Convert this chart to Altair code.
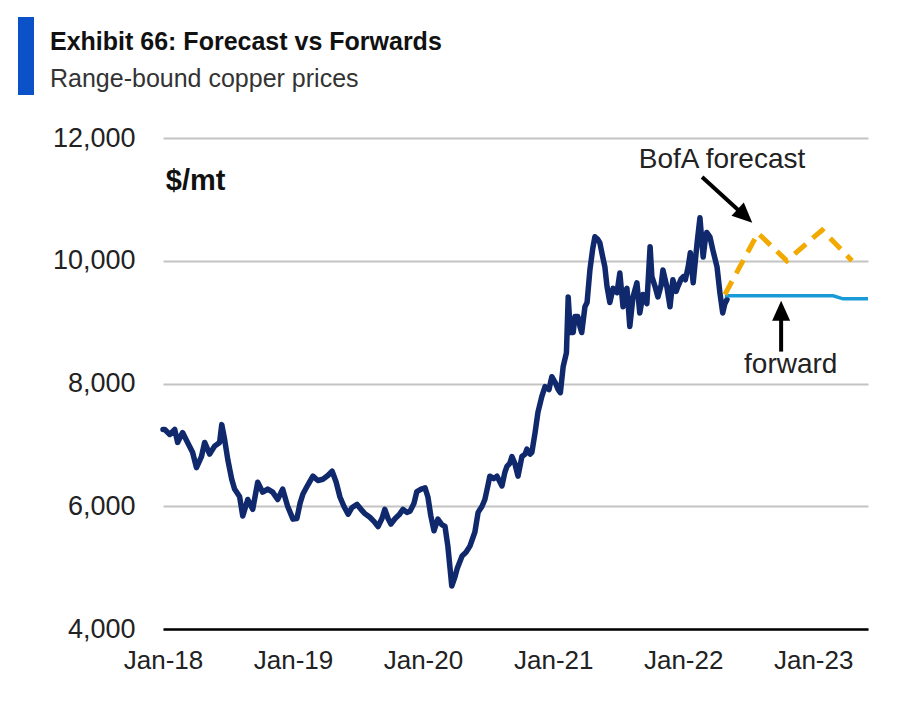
import altair as alt
import pandas as pd

FONT = "Liberation Sans"

# ---------------- data ----------------
spot_dates = [
    "2018-01-01", "2018-01-06", "2018-01-20", "2018-02-03", "2018-02-11", "2018-02-25",
    "2018-03-11", "2018-03-25", "2018-04-05", "2018-04-19", "2018-04-28", "2018-05-12",
    "2018-05-26", "2018-06-09", "2018-06-15", "2018-06-23", "2018-07-02", "2018-07-13",
    "2018-07-21", "2018-08-04", "2018-08-13", "2018-08-27", "2018-09-10", "2018-09-24",
    "2018-10-08", "2018-10-22", "2018-11-05", "2018-11-19", "2018-12-03", "2018-12-17",
    "2019-01-01", "2019-01-12", "2019-01-21", "2019-01-29", "2019-02-12", "2019-02-26",
    "2019-03-12", "2019-03-26", "2019-04-09", "2019-04-21", "2019-05-02", "2019-05-13",
    "2019-05-24", "2019-06-05", "2019-06-16", "2019-06-30", "2019-07-11", "2019-07-22",
    "2019-08-05", "2019-08-17", "2019-08-28", "2019-09-08", "2019-09-16", "2019-09-25",
    "2019-10-03", "2019-10-15", "2019-10-26", "2019-11-06", "2019-11-17", "2019-11-26",
    "2019-12-07", "2019-12-15", "2019-12-27",
    "2020-01-07", "2020-01-15", "2020-01-23", "2020-02-01", "2020-02-12", "2020-02-23",
    "2020-03-03", "2020-03-11", "2020-03-17", "2020-03-22", "2020-03-31", "2020-04-06",
    "2020-04-20", "2020-05-01", "2020-05-12", "2020-05-26", "2020-06-04", "2020-06-15",
    "2020-06-23", "2020-07-02", "2020-07-07", "2020-07-18", "2020-07-27", "2020-08-04",
    "2020-08-10", "2020-08-18", "2020-08-24", "2020-09-01", "2020-09-07", "2020-09-15",
    "2020-09-24", "2020-10-05", "2020-10-14", "2020-10-19", "2020-10-28", "2020-11-02",
    "2020-11-11", "2020-11-19", "2020-11-30", "2020-12-09", "2020-12-20", "2020-12-28",
    "2021-01-07", "2021-01-15", "2021-01-21", "2021-01-29", "2021-02-07", "2021-02-12",
    "2021-02-18", "2021-02-26", "2021-03-03", "2021-03-11", "2021-03-17", "2021-03-22",
    "2021-03-31", "2021-04-06", "2021-04-14", "2021-04-22", "2021-04-28", "2021-05-06",
    "2021-05-12", "2021-05-20", "2021-05-26", "2021-06-01", "2021-06-09", "2021-06-18",
    "2021-06-29", "2021-07-07", "2021-07-16", "2021-07-21", "2021-07-27", "2021-08-04",
    "2021-08-13", "2021-08-24", "2021-09-01", "2021-09-10", "2021-09-21", "2021-09-30",
    "2021-10-05", "2021-10-14", "2021-10-22", "2021-10-31", "2021-11-05", "2021-11-16",
    "2021-11-25", "2021-12-03", "2021-12-12", "2021-12-17", "2021-12-26",
    "2022-01-01", "2022-01-07", "2022-01-15", "2022-01-21", "2022-01-29", "2022-02-09",
    "2022-02-17", "2022-02-26", "2022-03-03", "2022-03-08", "2022-03-17", "2022-03-25",
    "2022-04-06", "2022-04-14", "2022-04-22", "2022-04-28", "2022-05-04",
]
spot_values = [
    7250, 7250, 7170, 7250, 7040, 7200,
    7040, 6880, 6630, 6810, 7040, 6850,
    6980, 7040, 7330, 7090, 6760, 6440,
    6280, 6160, 5840, 6110, 5950, 6390,
    6230, 6280, 6230, 6110, 6280, 6000,
    5790, 5800, 6050, 6200, 6350, 6490,
    6420, 6440, 6500, 6570, 6400, 6150,
    6000, 5870, 5980, 6030, 5950, 5880,
    5820, 5750, 5670, 5800, 5950, 5800,
    5710, 5800, 5860, 5950, 5900, 5920,
    6050, 6240, 6280,
    6300, 6150, 5850, 5600, 5790, 5700,
    5670, 5350, 5000, 4700, 4850, 4980,
    5190, 5250, 5350, 5580, 5900, 6000,
    6110, 6350, 6490, 6450, 6490, 6400,
    6330, 6550, 6650, 6700, 6810, 6700,
    6490, 6810, 6850, 6930, 6850, 6880,
    7200, 7530, 7790, 7950, 7900, 8110,
    8010, 7900, 7850, 8280, 8500, 9410,
    8830, 8830, 9090, 9090, 8930, 8830,
    9250, 9320, 9850, 10200, 10390, 10350,
    10290, 10060, 9900, 9580, 9320, 9550,
    9480, 9800, 9250, 9500, 9550, 8930,
    9410, 9640, 9150, 9450, 9300, 10230,
    9740, 9580, 9410, 9600, 9850, 9580,
    9250, 9690, 9500, 9580, 9700,
    9740, 9690, 9900, 10130, 9640, 10290,
    10700, 10060, 10300, 10460, 10390, 10180,
    9900, 9480, 9150, 9300, 9370,
]

forecast_dates = ["2022-04-28", "2022-07-30", "2022-10-19", "2023-01-26", "2023-04-20"]
forecast_values = [9450, 10450, 10000, 10500, 10000]

forward_dates = ["2022-04-28", "2022-06-01", "2022-07-01", "2022-08-01", "2022-09-01",
                 "2022-10-01", "2022-11-01", "2022-12-01", "2023-01-01", "2023-02-01",
                 "2023-02-26", "2023-03-26", "2023-05-01", "2023-06-04"]
forward_values = [9430, 9430, 9430, 9430, 9430, 9430, 9430, 9430, 9430, 9430,
                  9430, 9380, 9380, 9380]

x_tick_years = [2018, 2019, 2020, 2021, 2022, 2023]
y_ticks = [4000, 6000, 8000, 10000, 12000]
x_domain = ["2018-01-01", "2023-06-04"]
y_domain = [4000, 12000]

# annotations (data coordinates)
label_text = ["BofA forecast", "forward"]
label_dates = ["2022-04-20", "2022-10-30"]
label_values = [11512, 8179]

unit_text = ["$/mt"]
unit_dates = ["2018-01-09"]
unit_values = [11155]

arrow_start_dates = ["2022-02-23", "2022-10-03"]
arrow_start_values = [11366, 8520]
arrow_end_dates = ["2022-06-23", "2022-10-03"]
arrow_end_values = [10728, 9187]
head_dates = ["2022-07-14", "2022-10-03"]
head_values = [10618, 9350]
head_angles = [133, 0]

title_text = "Exhibit 66: Forecast vs Forwards"
subtitle_text = "Range-bound copper prices"

# ---------------- frames ----------------
spot = pd.DataFrame({"date": spot_dates, "price": spot_values})
forecast = pd.DataFrame({"date": forecast_dates, "price": forecast_values})
forward = pd.DataFrame({"date": forward_dates, "price": forward_values})
labels = pd.DataFrame({"text": label_text, "date": label_dates, "price": label_values})
units = pd.DataFrame({"text": unit_text, "date": unit_dates, "price": unit_values})
arrows = pd.DataFrame({"d1": arrow_start_dates, "p1": arrow_start_values,
                       "d2": arrow_end_dates, "p2": arrow_end_values})
heads = pd.DataFrame({"date": head_dates, "price": head_values, "angle": head_angles})
one = pd.DataFrame({"k": [0]})

x_scale = alt.Scale(domain=x_domain)
y_scale = alt.Scale(domain=y_domain, nice=False, zero=False)

x_axis = alt.Axis(
    values=[alt.DateTime(year=y, month=1, date=1) for y in x_tick_years],
    format="%b-%y", title=None, grid=False, ticks=False, tickSize=0,
    domain=True, domainColor="#000000", domainWidth=2.5,
    labelFont=FONT, labelFontSize=26, labelColor="#222222", labelPadding=18,
    labelAlign="center",
)
y_axis = alt.Axis(
    values=y_ticks, format=",.0f", formatType="number", title=None, grid=True,
    gridColor="#c4c4c4", gridWidth=2, ticks=False, tickSize=0, domain=False,
    labelFont=FONT, labelFontSize=27, labelColor="#222222", labelPadding=28,
)

X = alt.X("date:T", scale=x_scale, axis=x_axis)
Y = alt.Y("price:Q", scale=y_scale, axis=y_axis)

spot_line = alt.Chart(spot).mark_line(
    color="#10296d", strokeWidth=5.5, strokeJoin="round", strokeCap="round"
).encode(x=X, y=Y)
forward_line = alt.Chart(forward).mark_line(color="#1a9bd7", strokeWidth=3.5).encode(x=X, y=Y)
forecast_line = alt.Chart(forecast).mark_line(
    color="#f2a900", strokeWidth=5, strokeDash=[15, 9]
).encode(x=X, y=Y)

label_layer = alt.Chart(labels).mark_text(
    font=FONT, fontSize=28, color="#222222", align="center", baseline="alphabetic"
).encode(x=X, y=Y, text="text:N")

unit_layer = alt.Chart(units).mark_text(
    font=FONT, fontSize=29, fontWeight="bold", color="#111111", align="left", baseline="alphabetic"
).encode(x=X, y=Y, text="text:N")

shafts = alt.Chart(arrows).mark_rule(color="#000000", strokeWidth=4).encode(
    x=alt.X("d1:T", scale=x_scale, axis=x_axis), y=alt.Y("p1:Q", scale=y_scale, axis=y_axis),
    x2="d2:T", y2="p2:Q",
)
head_layer = alt.Chart(heads).mark_point(
    shape="M0,0L-0.9,2L0.9,2Z", filled=True, color="#000000", opacity=1, size=400
).encode(x=X, y=Y, angle=alt.Angle("angle:Q", scale=None))

title_layer = alt.Chart(one).mark_text(
    text=title_text, font=FONT, fontSize=25, fontWeight="bold", color="#111111",
    align="left", baseline="alphabetic"
).encode(x=alt.value(-113), y=alt.value(-88))
subtitle_layer = alt.Chart(one).mark_text(
    text=subtitle_text, font=FONT, fontSize=25, color="#333333",
    align="left", baseline="alphabetic"
).encode(x=alt.value(-113), y=alt.value(-51))
bar_layer = alt.Chart(one).mark_rect(color="#0b52c9").encode(
    x=alt.value(-145), x2=alt.value(-129), y=alt.value(-121), y2=alt.value(-43)
)

chart = alt.layer(
    spot_line, forward_line, forecast_line, shafts, head_layer,
    label_layer, unit_layer, title_layer, subtitle_layer, bar_layer,
).properties(
    width=705, height=491,
    autosize=alt.AutoSizeParams(type="none"),
    padding={"left": 155, "top": 130, "right": 40, "bottom": 70},
    background="#ffffff",
).configure_view(stroke=None)

chart.save("out.html", embed_options={"renderer": "svg", "actions": False})
